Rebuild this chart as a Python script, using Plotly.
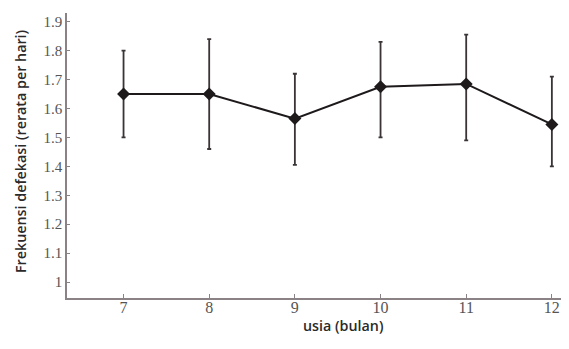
import plotly.graph_objects as go

usia = [7, 8, 9, 10, 11, 12]
rerata = [1.65, 1.65, 1.565, 1.675, 1.685, 1.545]
err_atas = [1.80, 1.84, 1.72, 1.83, 1.855, 1.71]
err_bawah = [1.50, 1.46, 1.405, 1.50, 1.49, 1.40]

ytick_vals = [1, 1.1, 1.2, 1.3, 1.4, 1.5, 1.6, 1.7, 1.8, 1.9]
ytick_text = ["1", "1.1", "1.2", "1.3", "1.4", "1.5", "1.6", "1.7", "1.8", "1.9"]
xtick_vals = [7, 8, 9, 10, 11, 12]

plus = [a - m for a, m in zip(err_atas, rerata)]
minus = [m - b for m, b in zip(rerata, err_bawah)]

fig = go.Figure()
fig.add_trace(go.Scatter(
    x=usia, y=rerata, mode="lines+markers",
    line=dict(color="#1e1a1c", width=2),
    marker=dict(symbol="diamond", size=10, color="#1e1a1c"),
    error_y=dict(type="data", symmetric=False, array=plus, arrayminus=minus,
                 color="#3a3436", thickness=1.8, width=2),
    showlegend=False,
))

serif = "Liberation Serif, DejaVu Serif, serif"
sans = "Open Sans, Lato, sans-serif"
# page body has an 8px margin, so figure coords are offset by 8px
W, H = 561, 333
L, T, R = 59, 5, 0
B = H - 290
pw = W - L - R
ph = H - T - B
title_font = dict(family=sans, size=14.3, color="#2a2a2a", weight=600)
fig.update_layout(
    width=W, height=H,
    margin=dict(l=L, r=R, t=T, b=B),
    paper_bgcolor="white", plot_bgcolor="white",
    xaxis=dict(range=[6.34, 12.2], tickvals=xtick_vals, showgrid=False, zeroline=False,
               automargin=False,
               showline=True, linecolor="#8a8285", linewidth=1.5,
               ticks="inside", ticklen=4, tickcolor="#8a8285",
               ticklabelstandoff=-6, ticklabeloverflow="allow",
               tickfont=dict(family=serif, size=16, color="#555555")),
    yaxis=dict(range=[0.945, 1.93], tickvals=ytick_vals, ticktext=ytick_text,
               showgrid=False, zeroline=False, automargin=False,
               showline=True, linecolor="#8a8285", linewidth=1.5,
               ticks="inside", ticklen=3, tickcolor="#8a8285",
               tickfont=dict(family=serif, size=15, color="#555555")),
    annotations=[
        dict(text="usia (bulan)", xref="paper", yref="paper",
             x=(343 - 8 - L) / pw, y=-(325 - 8 - 290) / ph, showarrow=False,
             xanchor="center", yanchor="middle", font=title_font),
        dict(text="Frekuensi defekasi (rerata per hari)", xref="paper", yref="paper",
             x=(20 - 8 - L) / pw, y=(290 - (152 - 8)) / ph, showarrow=False,
             textangle=-90, xanchor="center", yanchor="middle", font=title_font),
    ],
)

fig.write_html("out.html")
